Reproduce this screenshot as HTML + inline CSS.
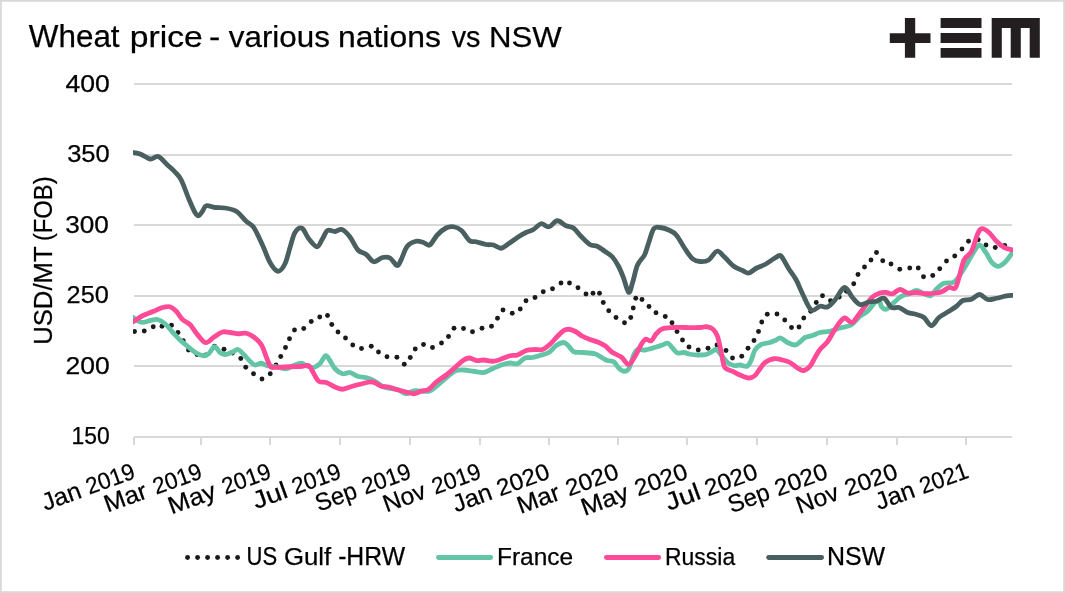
<!DOCTYPE html>
<html lang="en"><head><meta charset="utf-8"><title>Wheat price - various nations vs NSW</title>
<style>
html,body{margin:0;padding:0;background:#fff;}
#chart{position:relative;width:1065px;height:593px;overflow:hidden;background:#fff;}
svg{position:absolute;left:0;top:0;display:block;}
text{font-family:'Liberation Sans',sans-serif;fill:#000000;stroke:#000000;stroke-width:0.25;}
</style></head><body>
<div id="chart">
<svg width="1065" height="593" viewBox="0 0 1065 593">
<defs><clipPath id="plot"><rect x="133" y="60" width="880" height="400"/></clipPath></defs>
<rect x="0" y="0" width="1065" height="593" fill="#ffffff"/>
<rect x="0.9" y="0.9" width="1063.2" height="591.2" fill="none" stroke="#d9d9d9" stroke-width="1.8"/>
<g fill="#d8d8d8">
<rect x="134" y="83" width="878" height="2"/>
<rect x="134" y="154" width="878" height="2"/>
<rect x="134" y="224" width="878" height="2"/>
<rect x="134" y="295" width="878" height="2"/>
<rect x="134" y="365" width="878" height="2"/>
<rect x="134" y="436" width="878" height="2"/>
<rect x="133" y="437" width="2" height="8"/>
<rect x="200" y="437" width="2" height="8"/>
<rect x="269" y="437" width="2" height="8"/>
<rect x="339" y="437" width="2" height="8"/>
<rect x="409" y="437" width="2" height="8"/>
<rect x="479" y="437" width="2" height="8"/>
<rect x="548" y="437" width="2" height="8"/>
<rect x="617" y="437" width="2" height="8"/>
<rect x="686" y="437" width="2" height="8"/>
<rect x="756" y="437" width="2" height="8"/>
<rect x="826" y="437" width="2" height="8"/>
<rect x="896" y="437" width="2" height="8"/>
<rect x="965" y="437" width="2" height="8"/>
</g>
<g clip-path="url(#plot)">
<g fill="#1a1a1a">
<circle cx="134.5" cy="331.5" r="2.45"/>
<circle cx="144.25" cy="331" r="2.45"/>
<circle cx="153.25" cy="326.75" r="2.45"/>
<circle cx="162" cy="326.25" r="2.45"/>
<circle cx="171.5" cy="325.25" r="2.45"/>
<circle cx="178" cy="332.5" r="2.45"/>
<circle cx="183.25" cy="340.75" r="2.45"/>
<circle cx="188.5" cy="350" r="2.45"/>
<circle cx="197" cy="354.5" r="2.45"/>
<circle cx="205.75" cy="355" r="2.45"/>
<circle cx="214.5" cy="346.25" r="2.45"/>
<circle cx="224" cy="349.25" r="2.45"/>
<circle cx="232.5" cy="353" r="2.45"/>
<circle cx="240.75" cy="358.5" r="2.45"/>
<circle cx="245.75" cy="367.25" r="2.45"/>
<circle cx="253.5" cy="373.75" r="2.45"/>
<circle cx="262" cy="379" r="2.45"/>
<circle cx="270.25" cy="373.75" r="2.45"/>
<circle cx="276" cy="365" r="2.45"/>
<circle cx="280.75" cy="356.5" r="2.45"/>
<circle cx="285.5" cy="347.5" r="2.45"/>
<circle cx="289.5" cy="338.75" r="2.45"/>
<circle cx="294.5" cy="330" r="2.45"/>
<circle cx="303.75" cy="328.5" r="2.45"/>
<circle cx="311.25" cy="321.5" r="2.45"/>
<circle cx="319.75" cy="317" r="2.45"/>
<circle cx="327.5" cy="315.5" r="2.45"/>
<circle cx="331.75" cy="324.5" r="2.45"/>
<circle cx="338" cy="332" r="2.45"/>
<circle cx="345.5" cy="338" r="2.45"/>
<circle cx="352.75" cy="345" r="2.45"/>
<circle cx="361.5" cy="348.5" r="2.45"/>
<circle cx="371.25" cy="346.25" r="2.45"/>
<circle cx="378.5" cy="352" r="2.45"/>
<circle cx="387" cy="356.75" r="2.45"/>
<circle cx="396.9" cy="357.3" r="2.45"/>
<circle cx="404.25" cy="364.25" r="2.45"/>
<circle cx="410.25" cy="357.5" r="2.45"/>
<circle cx="415.25" cy="349" r="2.45"/>
<circle cx="423.5" cy="344.5" r="2.45"/>
<circle cx="432.5" cy="347.5" r="2.45"/>
<circle cx="441.5" cy="343" r="2.45"/>
<circle cx="448.5" cy="336.5" r="2.45"/>
<circle cx="454" cy="328.25" r="2.45"/>
<circle cx="463.5" cy="328.5" r="2.45"/>
<circle cx="472.5" cy="331.75" r="2.45"/>
<circle cx="482" cy="328.25" r="2.45"/>
<circle cx="491.5" cy="326.25" r="2.45"/>
<circle cx="497.5" cy="318.25" r="2.45"/>
<circle cx="503" cy="310" r="2.45"/>
<circle cx="512.25" cy="313.25" r="2.45"/>
<circle cx="520.25" cy="309" r="2.45"/>
<circle cx="526" cy="300.75" r="2.45"/>
<circle cx="535" cy="297.5" r="2.45"/>
<circle cx="543.25" cy="291.75" r="2.45"/>
<circle cx="552.5" cy="288.75" r="2.45"/>
<circle cx="561" cy="283" r="2.45"/>
<circle cx="569.5" cy="283" r="2.45"/>
<circle cx="578" cy="287.75" r="2.45"/>
<circle cx="586" cy="294" r="2.45"/>
<circle cx="593" cy="293.25" r="2.45"/>
<circle cx="599.5" cy="293.25" r="2.45"/>
<circle cx="603.25" cy="302.5" r="2.45"/>
<circle cx="608.75" cy="310.75" r="2.45"/>
<circle cx="616" cy="317.5" r="2.45"/>
<circle cx="624.5" cy="322.75" r="2.45"/>
<circle cx="630.75" cy="317.5" r="2.45"/>
<circle cx="633.25" cy="308" r="2.45"/>
<circle cx="635.75" cy="298.25" r="2.45"/>
<circle cx="642" cy="299.5" r="2.45"/>
<circle cx="649" cy="306.5" r="2.45"/>
<circle cx="656" cy="312.75" r="2.45"/>
<circle cx="665.25" cy="316.5" r="2.45"/>
<circle cx="672" cy="322.75" r="2.45"/>
<circle cx="677" cy="331.5" r="2.45"/>
<circle cx="682.5" cy="340" r="2.45"/>
<circle cx="689" cy="347" r="2.45"/>
<circle cx="698.25" cy="350" r="2.45"/>
<circle cx="708" cy="348.25" r="2.45"/>
<circle cx="717" cy="345" r="2.45"/>
<circle cx="726" cy="350.5" r="2.45"/>
<circle cx="732.5" cy="358" r="2.45"/>
<circle cx="741.75" cy="356.25" r="2.45"/>
<circle cx="748" cy="348.25" r="2.45"/>
<circle cx="754" cy="340.5" r="2.45"/>
<circle cx="758.5" cy="331.5" r="2.45"/>
<circle cx="761.75" cy="322" r="2.45"/>
<circle cx="767.25" cy="314.25" r="2.45"/>
<circle cx="777" cy="314" r="2.45"/>
<circle cx="784.75" cy="320" r="2.45"/>
<circle cx="791.5" cy="327.5" r="2.45"/>
<circle cx="799" cy="327" r="2.45"/>
<circle cx="803.75" cy="318" r="2.45"/>
<circle cx="810.75" cy="311.25" r="2.45"/>
<circle cx="816.25" cy="302.5" r="2.45"/>
<circle cx="822.5" cy="295.75" r="2.45"/>
<circle cx="830.5" cy="300.75" r="2.45"/>
<circle cx="839.25" cy="297" r="2.45"/>
<circle cx="846.5" cy="291.25" r="2.45"/>
<circle cx="853.75" cy="283.75" r="2.45"/>
<circle cx="858" cy="274.5" r="2.45"/>
<circle cx="864.5" cy="267" r="2.45"/>
<circle cx="871" cy="260" r="2.45"/>
<circle cx="876.5" cy="252.5" r="2.45"/>
<circle cx="882.75" cy="260.75" r="2.45"/>
<circle cx="891" cy="264" r="2.45"/>
<circle cx="899.75" cy="269.25" r="2.45"/>
<circle cx="909.75" cy="268" r="2.45"/>
<circle cx="918.25" cy="268" r="2.45"/>
<circle cx="923.5" cy="276.75" r="2.45"/>
<circle cx="932.75" cy="275.5" r="2.45"/>
<circle cx="939.75" cy="268.75" r="2.45"/>
<circle cx="946.5" cy="261" r="2.45"/>
<circle cx="954.75" cy="256" r="2.45"/>
<circle cx="962" cy="249" r="2.45"/>
<circle cx="968.5" cy="241.25" r="2.45"/>
<circle cx="978.2" cy="239.7" r="2.45"/>
<circle cx="986" cy="245" r="2.45"/>
<circle cx="995.25" cy="247.5" r="2.45"/>
<circle cx="1004.75" cy="245.4" r="2.45"/>
</g>
<g fill="none" stroke-width="4.8" stroke-linecap="butt" stroke-linejoin="round">
<path stroke="#63c5a6" d="M128.5 314.6C129.25 315.05 131.58 316.3 133 317.3C134.42 318.3 135.42 319.75 137 320.6C138.58 321.45 140.33 322.4 142.5 322.4C144.67 322.4 147.5 321.08 150 320.6C152.5 320.12 155 318.98 157.5 319.5C160 320.02 162.5 321.67 165 323.75C167.5 325.83 170 329.29 172.5 332C175 334.71 177.5 337.62 180 340C182.5 342.38 184.79 344.08 187.5 346.25C190.21 348.42 193.54 351.42 196.25 353C198.96 354.58 201.67 355.62 203.75 355.75C205.83 355.88 206.96 355.25 208.75 353.75C210.54 352.25 212.62 346.96 214.5 346.75C216.38 346.54 218.25 351.21 220 352.5C221.75 353.79 222.92 354.58 225 354.5C227.08 354.42 230.33 352.83 232.5 352C234.67 351.17 236.12 349.08 238 349.5C239.88 349.92 241.75 352.54 243.75 354.5C245.75 356.46 248.12 359.5 250 361.25C251.88 363 253.12 364.67 255 365C256.88 365.33 259.17 363.12 261.25 363.25C263.33 363.38 264.79 365.12 267.5 365.75C270.21 366.38 274.38 366.5 277.5 367C280.62 367.5 283.54 369 286.25 368.75C288.96 368.5 291.25 366.42 293.75 365.5C296.25 364.58 298.96 363.12 301.25 363.25C303.54 363.38 305.42 365.54 307.5 366.25C309.58 366.96 311.67 367.96 313.75 367.5C315.83 367.04 318.04 365.47 320 363.5C321.96 361.53 323.9 356.28 325.5 355.7C327.1 355.12 328.02 357.82 329.6 360C331.18 362.18 332.85 366.46 335 368.75C337.15 371.04 340 373.12 342.5 373.75C345 374.38 347.5 372.08 350 372.5C352.5 372.92 354.58 375.33 357.5 376.25C360.42 377.17 364.58 377.17 367.5 378C370.42 378.83 372.5 379.88 375 381.25C377.5 382.62 380 385.04 382.5 386.25C385 387.46 387.5 387.96 390 388.5C392.5 389.04 394.79 388.62 397.5 389.5C400.21 390.38 403.54 393.54 406.25 393.75C408.96 393.96 411.04 391.17 413.75 390.75C416.46 390.33 419.79 391.25 422.5 391.25C425.21 391.25 427.08 392.08 430 390.75C432.92 389.42 436.67 385.96 440 383.25C443.33 380.54 447.29 376.62 450 374.5C452.71 372.38 453.96 371.25 456.25 370.5C458.54 369.75 460.83 369.88 463.75 370C466.67 370.12 470.42 370.83 473.75 371.25C477.08 371.67 480.62 372.92 483.75 372.5C486.88 372.08 489.58 370 492.5 368.75C495.42 367.5 498.33 365.96 501.25 365C504.17 364.04 507.29 363.21 510 363C512.71 362.79 515 364.58 517.5 363.75C520 362.92 522.5 359.04 525 358C527.5 356.96 530 357.92 532.5 357.5C535 357.08 537.29 356.33 540 355.5C542.71 354.67 546.04 354.17 548.75 352.5C551.46 350.83 553.75 347.17 556.25 345.5C558.75 343.83 561.67 342.38 563.75 342.5C565.83 342.62 567.08 344.71 568.75 346.25C570.42 347.79 571.46 350.71 573.75 351.75C576.04 352.79 578.96 352.17 582.5 352.5C586.04 352.83 591.67 352.83 595 353.75C598.33 354.67 600.42 356.88 602.5 358C604.58 359.12 605.62 359.88 607.5 360.5C609.38 361.12 611.88 360.5 613.75 361.75C615.62 363 617.08 366.42 618.75 368C620.42 369.58 622.08 371.12 623.75 371.25C625.42 371.38 627.08 371.46 628.75 368.75C630.42 366.04 632.29 358.21 633.75 355C635.21 351.79 635.62 350.33 637.5 349.5C639.38 348.67 641.88 350.42 645 350C648.12 349.58 653.33 347.83 656.25 347C659.17 346.17 660.54 345.62 662.5 345C664.46 344.38 666.33 342.75 668 343.25C669.67 343.75 670.92 346.38 672.5 348C674.08 349.62 675.62 352.25 677.5 353C679.38 353.75 681.67 352.29 683.75 352.5C685.83 352.71 687.71 353.83 690 354.25C692.29 354.67 694.79 354.96 697.5 355C700.21 355.04 703.75 355.12 706.25 354.5C708.75 353.88 710.83 352.08 712.5 351.25C714.17 350.42 714.79 348.88 716.25 349.5C717.71 350.12 719.38 352.83 721.25 355C723.12 357.17 725.42 360.75 727.5 362.5C729.58 364.25 731.67 365.08 733.75 365.5C735.83 365.92 737.79 364.88 740 365C742.21 365.12 745.12 367.08 747 366.25C748.88 365.42 749.92 362.71 751.25 360C752.58 357.29 753.33 352.58 755 350C756.67 347.42 758.75 345.75 761.25 344.5C763.75 343.25 767.5 343.25 770 342.5C772.5 341.75 774.5 340.75 776.25 340C778 339.25 778.62 337.58 780.5 338C782.38 338.42 785.08 341.33 787.5 342.5C789.92 343.67 792.92 345.08 795 345C797.08 344.92 798.33 343.25 800 342C801.67 340.75 802.92 338.58 805 337.5C807.08 336.42 810 336.33 812.5 335.5C815 334.67 817.08 333.21 820 332.5C822.92 331.79 826.67 332 830 331.25C833.33 330.5 836.46 329.04 840 328C843.54 326.96 847.92 326.96 851.25 325C854.58 323.04 857.29 318.54 860 316.25C862.71 313.96 865 313.54 867.5 311.25C870 308.96 873 304.29 875 302.5C877 300.71 878.46 299.88 879.5 300.5C880.54 301.12 880.12 304.79 881.25 306.25C882.38 307.71 884.38 309.67 886.25 309.25C888.12 308.83 889.96 305.92 892.5 303.75C895.04 301.58 898.75 297.92 901.5 296.25C904.25 294.58 906.5 294.71 909 293.75C911.5 292.79 914 290.5 916.5 290.5C919 290.5 921.62 292.88 924 293.75C926.38 294.62 928.67 296.49 930.75 295.7C932.83 294.91 934.29 291.07 936.5 289C938.71 286.93 941.08 284.47 944 283.3C946.92 282.13 951.08 283.8 954 282C956.92 280.2 959 276.17 961.5 272.5C964 268.83 966.68 263.85 969 260C971.32 256.15 973.58 251.92 975.4 249.4C977.22 246.88 978.08 244.27 979.9 244.9C981.72 245.53 984.28 250.25 986.3 253.2C988.32 256.15 989.97 260.42 992 262.6C994.03 264.78 996.21 266.48 998.5 266.3C1000.79 266.12 1003.42 263.78 1005.75 261.5C1008.08 259.22 1010.54 255.1 1012.5 252.6C1014.46 250.1 1016.67 247.52 1017.5 246.5"/>
<path stroke="#ff4a98" d="M128.5 324.4C129.33 323.9 131.17 322.84 133.5 321.4C135.83 319.96 139.12 317.44 142.5 315.75C145.88 314.06 150.42 312.62 153.75 311.25C157.08 309.88 159.79 308.25 162.5 307.5C165.21 306.75 167.71 306.12 170 306.75C172.29 307.38 174.17 309.12 176.25 311.25C178.33 313.38 180.21 317.29 182.5 319.5C184.79 321.71 187.5 321.98 190 324.5C192.5 327.02 194.88 331.58 197.5 334.6C200.12 337.62 202.95 342.2 205.7 342.6C208.45 343 211.2 338.77 214 337C216.8 335.23 219.83 332.75 222.5 332C225.17 331.25 227.29 332.21 230 332.5C232.71 332.79 236.04 333.62 238.75 333.75C241.46 333.88 243.75 332.71 246.25 333.25C248.75 333.79 251.25 335.12 253.75 337C256.25 338.88 259.12 341.08 261.25 344.5C263.38 347.92 264.96 353.82 266.5 357.5C268.04 361.18 269.08 364.95 270.5 366.6C271.92 368.25 271.75 367.38 275 367.4C278.25 367.42 285.42 366.94 290 366.75C294.58 366.56 299.38 366.42 302.5 366.25C305.62 366.08 307.08 364.92 308.75 365.75C310.42 366.58 310.83 368.67 312.5 371.25C314.17 373.83 316.46 379.38 318.75 381.25C321.04 383.12 323.54 381.54 326.25 382.5C328.96 383.46 332.29 385.88 335 387C337.71 388.12 340 389.25 342.5 389.25C345 389.25 347.08 387.83 350 387C352.92 386.17 356.25 385.08 360 384.25C363.75 383.42 368.96 381.67 372.5 382C376.04 382.33 378.54 385.42 381.25 386.25C383.96 387.08 386.25 386.46 388.75 387C391.25 387.54 393.33 388.67 396.25 389.5C399.17 390.33 403.33 391.29 406.25 392C409.17 392.71 411.25 393.88 413.75 393.75C416.25 393.62 418.75 392 421.25 391.25C423.75 390.5 426.25 390.79 428.75 389.25C431.25 387.71 433.33 384.38 436.25 382C439.17 379.62 443.12 377.42 446.25 375C449.38 372.58 452.08 370 455 367.5C457.92 365 461.33 361.58 463.75 360C466.17 358.42 467.42 357.92 469.5 358C471.58 358.08 473.88 360.17 476.25 360.5C478.62 360.83 481.04 359.88 483.75 360C486.46 360.12 489.79 361.33 492.5 361.25C495.21 361.17 497.08 360.42 500 359.5C502.92 358.58 507.08 356.5 510 355.75C512.92 355 514.79 355.88 517.5 355C520.21 354.12 523.33 351.42 526.25 350.5C529.17 349.58 532.29 349.67 535 349.5C537.71 349.33 540 350.38 542.5 349.5C545 348.62 547.5 346.46 550 344.25C552.5 342.04 555.21 338.54 557.5 336.25C559.79 333.96 561.88 331.67 563.75 330.5C565.62 329.33 566.88 329.12 568.75 329.25C570.62 329.38 572.71 330.08 575 331.25C577.29 332.42 580 334.88 582.5 336.25C585 337.62 587.5 338.54 590 339.5C592.5 340.46 595 340.96 597.5 342C600 343.04 602.5 344 605 345.75C607.5 347.5 609.79 350.62 612.5 352.5C615.21 354.38 618.54 355 621.25 357C623.96 359 626.46 364.62 628.75 364.5C631.04 364.38 632.92 359.58 635 356.25C637.08 352.92 639.5 347.33 641.25 344.5C643 341.67 643.83 339.88 645.5 339.25C647.17 338.62 649.46 341.67 651.25 340.75C653.04 339.83 654.38 335.75 656.25 333.75C658.12 331.75 659.79 329.79 662.5 328.75C665.21 327.71 668.75 327.71 672.5 327.5C676.25 327.29 680.42 327.5 685 327.5C689.58 327.5 696.46 327.62 700 327.5C703.54 327.38 704.17 326.54 706.25 326.75C708.33 326.96 710.62 327.17 712.5 328.75C714.38 330.33 716.04 332.29 717.5 336.25C718.96 340.21 720.21 347.71 721.25 352.5C722.29 357.29 722.92 362.29 723.75 365C724.58 367.71 724.79 367.71 726.25 368.75C727.71 369.79 730.21 370.21 732.5 371.25C734.79 372.29 737.29 373.88 740 375C742.71 376.12 746.25 377.92 748.75 378C751.25 378.08 753.12 377.04 755 375.5C756.88 373.96 758.33 370.92 760 368.75C761.67 366.58 762.71 364.17 765 362.5C767.29 360.83 770.83 359.17 773.75 358.75C776.67 358.33 779.79 359.38 782.5 360C785.21 360.62 787.5 361.17 790 362.5C792.5 363.83 795.21 366.67 797.5 368C799.79 369.33 801.67 370.79 803.75 370.5C805.83 370.21 808.12 368.42 810 366.25C811.88 364.08 813.33 360.29 815 357.5C816.67 354.71 817.92 352.12 820 349.5C822.08 346.88 825.21 344.79 827.5 341.75C829.79 338.71 831.67 334.54 833.75 331.25C835.83 327.96 838.12 324.21 840 322C841.88 319.79 843 317.92 845 318C847 318.08 849.92 322.79 852 322.5C854.08 322.21 855.33 318.96 857.5 316.25C859.67 313.54 862.5 309.46 865 306.25C867.5 303.04 870 299.21 872.5 297C875 294.79 877.71 293.75 880 293C882.29 292.25 884.17 292.38 886.25 292.5C888.33 292.62 890.21 294.25 892.5 293.75C894.79 293.25 897.46 289.62 900 289.5C902.54 289.38 905 292.5 907.75 293C910.5 293.5 913.38 292.38 916.5 292.5C919.62 292.62 923.17 293.67 926.5 293.75C929.83 293.83 933.79 293.42 936.5 293C939.21 292.58 940.67 292.17 942.75 291.25C944.83 290.33 946.92 288.04 949 287.5C951.08 286.96 953.58 289.67 955.25 288C956.92 286.33 957.54 282.17 959 277.5C960.46 272.83 961.92 264.38 964 260C966.08 255.62 969.21 255.62 971.5 251.25C973.79 246.88 976 237.53 977.75 233.75C979.5 229.97 980.12 228.81 982 228.6C983.88 228.39 986.58 230.39 989 232.5C991.42 234.61 994 238.77 996.5 241.25C999 243.73 1001.58 246.01 1004 247.4C1006.42 248.79 1008.75 249.13 1011 249.6C1013.25 250.07 1016.42 250.1 1017.5 250.2"/>
<path stroke="#4a5f60" d="M128.5 151.6C129.38 151.77 131.62 152.13 133.75 152.6C135.88 153.07 138.47 153.33 141.25 154.4C144.03 155.47 147.56 158.63 150.4 159C153.24 159.37 155.45 155.6 158.3 156.6C161.15 157.6 164.72 162.43 167.5 165C170.28 167.57 172.71 169.5 175 172C177.29 174.5 178.96 175.54 181.25 180C183.54 184.46 186.46 193.33 188.75 198.75C191.04 204.17 193.33 209.67 195 212.5C196.67 215.33 197.5 215.96 198.75 215.75C200 215.54 201.25 212.92 202.5 211.25C203.75 209.58 204.17 206.38 206.25 205.75C208.33 205.12 211.88 207.12 215 207.5C218.12 207.88 221.46 207.38 225 208C228.54 208.62 232.71 209.04 236.25 211.25C239.79 213.46 243.33 218.54 246.25 221.25C249.17 223.96 251.04 223.54 253.75 227.5C256.46 231.46 259.79 239.17 262.5 245C265.21 250.83 267.42 258.12 270 262.5C272.58 266.88 275.5 271.04 278 271.25C280.5 271.46 283 267.71 285 263.75C287 259.79 288.33 252.71 290 247.5C291.67 242.29 293 235.71 295 232.5C297 229.29 299.71 227.21 302 228.25C304.29 229.29 306.25 235.67 308.75 238.75C311.25 241.83 314.71 246.75 317 246.75C319.29 246.75 320.75 241.46 322.5 238.75C324.25 236.04 325.42 231.71 327.5 230.5C329.58 229.29 332.58 231.67 335 231.5C337.42 231.33 339.5 228.58 342 229.5C344.5 230.42 347.33 233.58 350 237C352.67 240.42 355.29 247.08 358 250C360.71 252.92 363.62 252.54 366.25 254.5C368.88 256.46 371.04 261.25 373.75 261.75C376.46 262.25 379.79 258.12 382.5 257.5C385.21 256.88 387.58 256.67 390 258C392.42 259.33 395.17 265.17 397 265.5C398.83 265.83 399.29 263.21 401 260C402.71 256.79 404.75 249.38 407.25 246.25C409.75 243.12 413.29 241.88 416 241.25C418.71 240.62 421.21 241.88 423.5 242.5C425.79 243.12 427.46 246.25 429.75 245C432.04 243.75 434.54 237.83 437.25 235C439.96 232.17 443.29 229.38 446 228C448.71 226.62 450.92 226.33 453.5 226.75C456.08 227.17 458.79 228.17 461.5 230.5C464.21 232.83 467.33 238.88 469.75 240.75C472.17 242.62 473.29 241.12 476 241.75C478.71 242.38 483.08 243.96 486 244.5C488.92 245.04 491 244.38 493.5 245C496 245.62 498.5 248.46 501 248.25C503.5 248.04 505.58 245.67 508.5 243.75C511.42 241.83 515.58 238.62 518.5 236.75C521.42 234.88 523.5 233.71 526 232.5C528.5 231.29 531 230.96 533.5 229.5C536 228.04 538.42 224.21 541 223.75C543.58 223.29 546.29 227.25 549 226.75C551.71 226.25 554.42 220.92 557.25 220.75C560.08 220.58 563.29 224.54 566 225.75C568.71 226.96 571 226.25 573.5 228C576 229.75 578.29 233.5 581 236.25C583.71 239 587.04 242.83 589.75 244.5C592.46 246.17 594.75 245.12 597.25 246.25C599.75 247.38 602.25 249.5 604.75 251.25C607.25 253 609.96 254.25 612.25 256.75C614.54 259.25 616.62 262.74 618.5 266.25C620.38 269.76 621.8 273.44 623.5 277.8C625.2 282.16 627.18 291.62 628.7 292.4C630.22 293.18 631.13 287.07 632.6 282.5C634.07 277.93 635.52 269.58 637.5 265C639.48 260.42 642.62 258.75 644.5 255C646.38 251.25 647.21 246.88 648.75 242.5C650.29 238.12 651.88 231.25 653.75 228.75C655.62 226.25 657.5 227.29 660 227.5C662.5 227.71 666.04 228.75 668.75 230C671.46 231.25 673.54 231.88 676.25 235C678.96 238.12 682.29 244.79 685 248.75C687.71 252.71 690 256.62 692.5 258.75C695 260.88 697.29 261.29 700 261.5C702.71 261.71 705.92 261.71 708.75 260C711.58 258.29 714.29 251.67 717 251.25C719.71 250.83 722.21 255 725 257.5C727.79 260 730.83 264.08 733.75 266.25C736.67 268.42 740 269.38 742.5 270.5C745 271.62 746.46 273.38 748.75 273C751.04 272.62 753.54 269.67 756.25 268.25C758.96 266.83 762.08 266.08 765 264.5C767.92 262.92 771.25 260.25 773.75 258.75C776.25 257.25 778.33 255.29 780 255.5C781.67 255.71 782.29 257.79 783.75 260C785.21 262.21 786.67 265.42 788.75 268.75C790.83 272.08 793.96 275.83 796.25 280C798.54 284.17 800 288.75 802.5 293.75C805 298.75 808.33 307.92 811.25 310C814.17 312.08 817.29 306.75 820 306.25C822.71 305.75 825 308.04 827.5 307C830 305.96 832.17 303.25 835 300C837.83 296.75 841.58 287.92 844.5 287.5C847.42 287.08 849.92 294.67 852.5 297.5C855.08 300.33 857.25 303.75 860 304.5C862.75 305.25 866.25 302.54 869 302C871.75 301.46 874 301.88 876.5 301.25C879 300.62 881.5 297.21 884 298.25C886.5 299.29 889 305.96 891.5 307.5C894 309.04 896.29 306.67 899 307.5C901.71 308.33 904.83 311.33 907.75 312.5C910.67 313.67 913.79 313.67 916.5 314.5C919.21 315.33 921.5 315.62 924 317.5C926.5 319.38 929 325.75 931.5 325.75C934 325.75 936.08 319.92 939 317.5C941.92 315.08 946.08 313.12 949 311.25C951.92 309.38 954.21 308.04 956.5 306.25C958.79 304.46 960.25 301.67 962.75 300.5C965.25 299.33 968.71 300.25 971.5 299.25C974.29 298.25 976.79 294.46 979.5 294.5C982.21 294.54 984.92 298.88 987.75 299.5C990.58 300.12 993.58 298.8 996.5 298.25C999.42 297.7 1002.58 296.68 1005.25 296.2C1007.92 295.72 1010.46 295.57 1012.5 295.4C1014.54 295.23 1016.67 295.23 1017.5 295.2"/>
</g></g>
<text><tspan x="28.8" y="46.75" font-size="30.6" textLength="90.79" lengthAdjust="spacingAndGlyphs">Wheat</tspan> <tspan x="129.8" y="46.75" font-size="29.6" textLength="72.97" lengthAdjust="spacingAndGlyphs">price</tspan> <tspan x="209.14" y="46.75" font-size="30" textLength="11.28" lengthAdjust="spacingAndGlyphs">-</tspan> <tspan x="228.8" y="46.75" font-size="29.6" textLength="101.08" lengthAdjust="spacingAndGlyphs">various</tspan> <tspan x="338.01" y="46.75" font-size="29.6" textLength="102.89" lengthAdjust="spacingAndGlyphs">nations</tspan> <tspan x="451.7" y="46.75" font-size="29.6" textLength="28.8" lengthAdjust="spacingAndGlyphs">vs</tspan> <tspan x="488.97" y="46.75" font-size="30" textLength="72.64" lengthAdjust="spacingAndGlyphs">NSW</tspan></text>
<text><tspan x="65.43" y="91.8" font-size="23.4" textLength="44.33" lengthAdjust="spacingAndGlyphs">400</tspan></text>
<text><tspan x="67.2" y="161.9" font-size="23.4" textLength="42.53" lengthAdjust="spacingAndGlyphs">350</tspan></text>
<text><tspan x="65.18" y="232.8" font-size="23.4" textLength="43.67" lengthAdjust="spacingAndGlyphs">300</tspan></text>
<text><tspan x="66.61" y="302.9" font-size="23.4" textLength="42.22" lengthAdjust="spacingAndGlyphs">250</tspan></text>
<text><tspan x="65.56" y="373.8" font-size="23.4" textLength="44.2" lengthAdjust="spacingAndGlyphs">200</tspan></text>
<text><tspan x="71.47" y="443.9" font-size="23.4" textLength="38.2" lengthAdjust="spacingAndGlyphs">150</tspan></text>
<text transform="translate(52.2 343.2) rotate(-90)"><tspan x="-1.61" y="0" font-size="25.6" textLength="98.44" lengthAdjust="spacingAndGlyphs">USD/MT</tspan> <tspan x="102.08" y="0" font-size="25.6" textLength="64.75" lengthAdjust="spacingAndGlyphs">(FOB)</tspan></text>
<text transform="translate(135.6 478) rotate(-20)"><tspan x="-96.29" y="0" font-size="24.5" textLength="40.29" lengthAdjust="spacingAndGlyphs">Jan</tspan> <tspan x="-49.26" y="0" font-size="23.4" textLength="50.17" lengthAdjust="spacingAndGlyphs">2019</tspan></text>
<text transform="translate(202.6 478) rotate(-20)"><tspan x="-101.19" y="0" font-size="24.5" textLength="43.92" lengthAdjust="spacingAndGlyphs">Mar</tspan> <tspan x="-49.26" y="0" font-size="23.4" textLength="50.17" lengthAdjust="spacingAndGlyphs">2019</tspan></text>
<text transform="translate(271.6 478) rotate(-20)"><tspan x="-106.43" y="0" font-size="24.5" textLength="49.03" lengthAdjust="spacingAndGlyphs">May</tspan> <tspan x="-49.26" y="0" font-size="23.4" textLength="50.17" lengthAdjust="spacingAndGlyphs">2019</tspan></text>
<text transform="translate(341.6 478) rotate(-20)"><tspan x="-91.13" y="0" font-size="24.5" textLength="35.57" lengthAdjust="spacingAndGlyphs">Jul</tspan> <tspan x="-49.26" y="0" font-size="23.4" textLength="50.17" lengthAdjust="spacingAndGlyphs">2019</tspan></text>
<text transform="translate(411.6 478) rotate(-20)"><tspan x="-98.84" y="0" font-size="24.5" textLength="42.41" lengthAdjust="spacingAndGlyphs">Sep</tspan> <tspan x="-49.26" y="0" font-size="23.4" textLength="50.17" lengthAdjust="spacingAndGlyphs">2019</tspan></text>
<text transform="translate(481.6 478) rotate(-20)"><tspan x="-101.12" y="0" font-size="24.5" textLength="43.72" lengthAdjust="spacingAndGlyphs">Nov</tspan> <tspan x="-49.26" y="0" font-size="23.4" textLength="50.17" lengthAdjust="spacingAndGlyphs">2019</tspan></text>
<text transform="translate(550.6 478) rotate(-20)"><tspan x="-100.69" y="0" font-size="24.5" textLength="40.29" lengthAdjust="spacingAndGlyphs">Jan</tspan> <tspan x="-53.75" y="0" font-size="23.4" textLength="54.35" lengthAdjust="spacingAndGlyphs">2020</tspan></text>
<text transform="translate(619.6 478) rotate(-20)"><tspan x="-105.59" y="0" font-size="24.5" textLength="43.92" lengthAdjust="spacingAndGlyphs">Mar</tspan> <tspan x="-53.75" y="0" font-size="23.4" textLength="54.35" lengthAdjust="spacingAndGlyphs">2020</tspan></text>
<text transform="translate(688.6 478) rotate(-20)"><tspan x="-110.83" y="0" font-size="24.5" textLength="49.03" lengthAdjust="spacingAndGlyphs">May</tspan> <tspan x="-53.75" y="0" font-size="23.4" textLength="54.35" lengthAdjust="spacingAndGlyphs">2020</tspan></text>
<text transform="translate(758.6 478) rotate(-20)"><tspan x="-95.53" y="0" font-size="24.5" textLength="35.57" lengthAdjust="spacingAndGlyphs">Jul</tspan> <tspan x="-53.75" y="0" font-size="23.4" textLength="54.35" lengthAdjust="spacingAndGlyphs">2020</tspan></text>
<text transform="translate(828.6 478) rotate(-20)"><tspan x="-103.24" y="0" font-size="24.5" textLength="42.41" lengthAdjust="spacingAndGlyphs">Sep</tspan> <tspan x="-53.75" y="0" font-size="23.4" textLength="54.35" lengthAdjust="spacingAndGlyphs">2020</tspan></text>
<text transform="translate(898.6 478) rotate(-20)"><tspan x="-105.52" y="0" font-size="24.5" textLength="43.72" lengthAdjust="spacingAndGlyphs">Nov</tspan> <tspan x="-53.75" y="0" font-size="23.4" textLength="54.35" lengthAdjust="spacingAndGlyphs">2020</tspan></text>
<text transform="translate(969.3 477.4) rotate(-20)"><tspan x="-96.29" y="0" font-size="24.5" textLength="40.29" lengthAdjust="spacingAndGlyphs">Jan</tspan> <tspan x="-49.26" y="0" font-size="23.4" textLength="50.17" lengthAdjust="spacingAndGlyphs">2021</tspan></text>
<g fill="#1a1a1a">
<circle cx="187.55" cy="557.45" r="2.45"/>
<circle cx="197.56" cy="557.45" r="2.45"/>
<circle cx="207.57" cy="557.45" r="2.45"/>
<circle cx="217.58" cy="557.45" r="2.45"/>
<circle cx="227.59" cy="557.45" r="2.45"/>
<circle cx="237.6" cy="557.45" r="2.45"/>
</g>
<g fill="none" stroke-width="4.9" stroke-linecap="round">
<line x1="438.45" y1="557.45" x2="490.65" y2="557.45" stroke="#63c5a6"/>
<line x1="606.45" y1="557.45" x2="658.65" y2="557.45" stroke="#ff4a98"/>
<line x1="768.65" y1="557.45" x2="821.55" y2="557.45" stroke="#4a5f60"/>
</g>
<text><tspan x="246.52" y="564.75" font-size="25.5" textLength="30.6" lengthAdjust="spacingAndGlyphs">US</tspan> <tspan x="283.99" y="564.75" font-size="24.8" textLength="47.22" lengthAdjust="spacingAndGlyphs">Gulf</tspan> <tspan x="338.13" y="564.75" font-size="25.5" textLength="66.94" lengthAdjust="spacingAndGlyphs">-HRW</tspan></text>
<text><tspan x="496.99" y="564.75" font-size="24.4" textLength="76.21" lengthAdjust="spacingAndGlyphs">France</tspan></text>
<text><tspan x="665.01" y="564.75" font-size="24.4" textLength="70.15" lengthAdjust="spacingAndGlyphs">Russia</tspan></text>
<text><tspan x="826.95" y="564.75" font-size="25.5" textLength="58.22" lengthAdjust="spacingAndGlyphs">NSW</tspan></text>
<g fill="#231f20">
<path d="M904.9 18.1h10.3v15.1h15.3v9.8h-15.3v14.8h-10.3v-14.8h-15.1v-9.8h15.1zM940.6 18.1h40.9v9.9h-40.9zM940.6 33h40.9v10h-40.9zM940.6 47.9h40.9v9.9h-40.9zM991.7 18.1h48.1v39.7h-10.1v-29.7h-8.9v29.7h-10.1v-29.7h-8.9v29.7h-10.1z"/>
</g>
</svg></div></body></html>
